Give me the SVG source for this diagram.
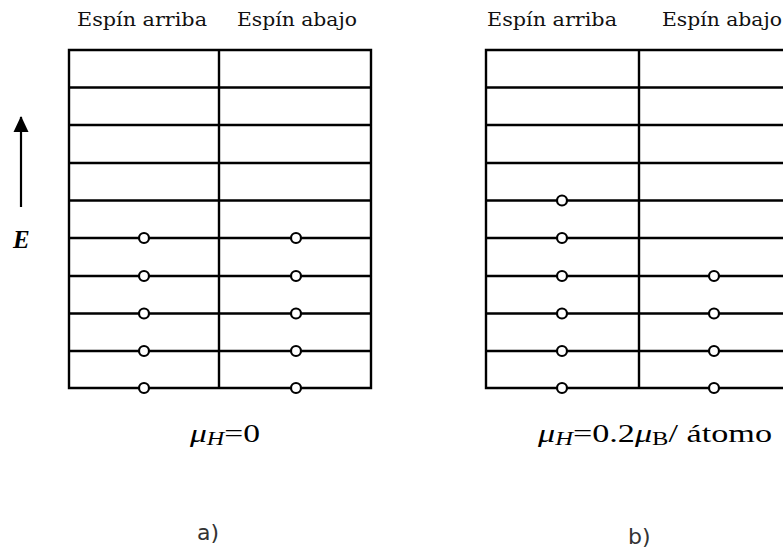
<svg xmlns="http://www.w3.org/2000/svg" width="783" height="556" viewBox="0 0 783 556">
<style>
.g{stroke:#000;stroke-width:2.4;fill:none;stroke-linecap:square}
.c{fill:#fff;stroke:#000;stroke-width:2.2}
.hd{font-family:"DejaVu Serif","Liberation Serif",serif;font-size:19px;fill:#111}
.mu{font-family:"Liberation Serif","DejaVu Serif",serif;font-size:25px;fill:#000}
.lab{font-family:"DejaVu Sans","Liberation Sans",sans-serif;font-size:22px;fill:#333}
</style>
<defs>
<marker id="ah" viewBox="0 0 16 16" refX="15" refY="8" markerWidth="16" markerHeight="16" markerUnits="userSpaceOnUse" orient="auto">
<path d="M0,0.5 L16,8 L0,15.5 z" fill="#000"/>
</marker>
</defs>
<rect width="783" height="556" fill="#fff"/>
<g id="panel-a">
<text class="hd" x="77" y="26" textLength="130" lengthAdjust="spacingAndGlyphs">Espín arriba</text>
<text class="hd" x="237" y="26" textLength="120" lengthAdjust="spacingAndGlyphs">Espín abajo</text>
<path class="g" d="M69,50V388M219,50V388M371,50V388
M69,50H371M69,87.5H371M69,125H371M69,163H371M69,200.5H371M69,238H371M69,276H371M69,313.5H371M69,351H371M69,388H371"/>
<circle class="c" cx="144" cy="238" r="5"/><circle class="c" cx="296" cy="238" r="5"/>
<circle class="c" cx="144" cy="276" r="5"/><circle class="c" cx="296" cy="276" r="5"/>
<circle class="c" cx="144" cy="313.5" r="5"/><circle class="c" cx="296" cy="313.5" r="5"/>
<circle class="c" cx="144" cy="351" r="5"/><circle class="c" cx="296" cy="351" r="5"/>
<circle class="c" cx="144" cy="388" r="5"/><circle class="c" cx="296" cy="388" r="5"/>
<text class="mu" x="190" y="442" textLength="70" lengthAdjust="spacingAndGlyphs"><tspan font-style="italic">μ</tspan><tspan font-style="italic" font-size="18" dy="3">H</tspan><tspan dy="-3">=0</tspan></text>
<text class="lab" x="197" y="540">a)</text>
</g>
<g id="panel-b">
<text class="hd" x="487" y="26" textLength="130" lengthAdjust="spacingAndGlyphs">Espín arriba</text>
<text class="hd" x="662" y="26" textLength="120" lengthAdjust="spacingAndGlyphs">Espín abajo</text>
<path class="g" d="M486,50V388M639,50V388
M486,50H790M486,87.5H790M486,125H790M486,163H790M486,200.5H790M486,238H790M486,276H790M486,313.5H790M486,351H790M486,388H790"/>
<circle class="c" cx="562" cy="200.5" r="5"/>
<circle class="c" cx="562" cy="238" r="5"/>
<circle class="c" cx="562" cy="276" r="5"/><circle class="c" cx="714" cy="276" r="5"/>
<circle class="c" cx="562" cy="313.5" r="5"/><circle class="c" cx="714" cy="313.5" r="5"/>
<circle class="c" cx="562" cy="351" r="5"/><circle class="c" cx="714" cy="351" r="5"/>
<circle class="c" cx="562" cy="388" r="5"/><circle class="c" cx="714" cy="388" r="5"/>
<text class="mu" x="538" y="442" textLength="234" lengthAdjust="spacingAndGlyphs"><tspan font-style="italic">μ</tspan><tspan font-style="italic" font-size="18" dy="3">H</tspan><tspan dy="-3">=0.2</tspan><tspan font-style="italic">μ</tspan><tspan font-size="18" dy="3">B</tspan><tspan dy="-3">/ átomo</tspan></text>
<text class="lab" x="628" y="544">b)</text>
</g>
<g id="energy-axis">
<text x="13" y="248" font-family="Liberation Serif, serif" font-size="25" font-weight="bold" font-style="italic">E</text>
</g>
<g id="connectors">
<line x1="21" y1="207" x2="21" y2="117" stroke="#000" stroke-width="2.2" marker-end="url(#ah)"/>
</g>
</svg>
